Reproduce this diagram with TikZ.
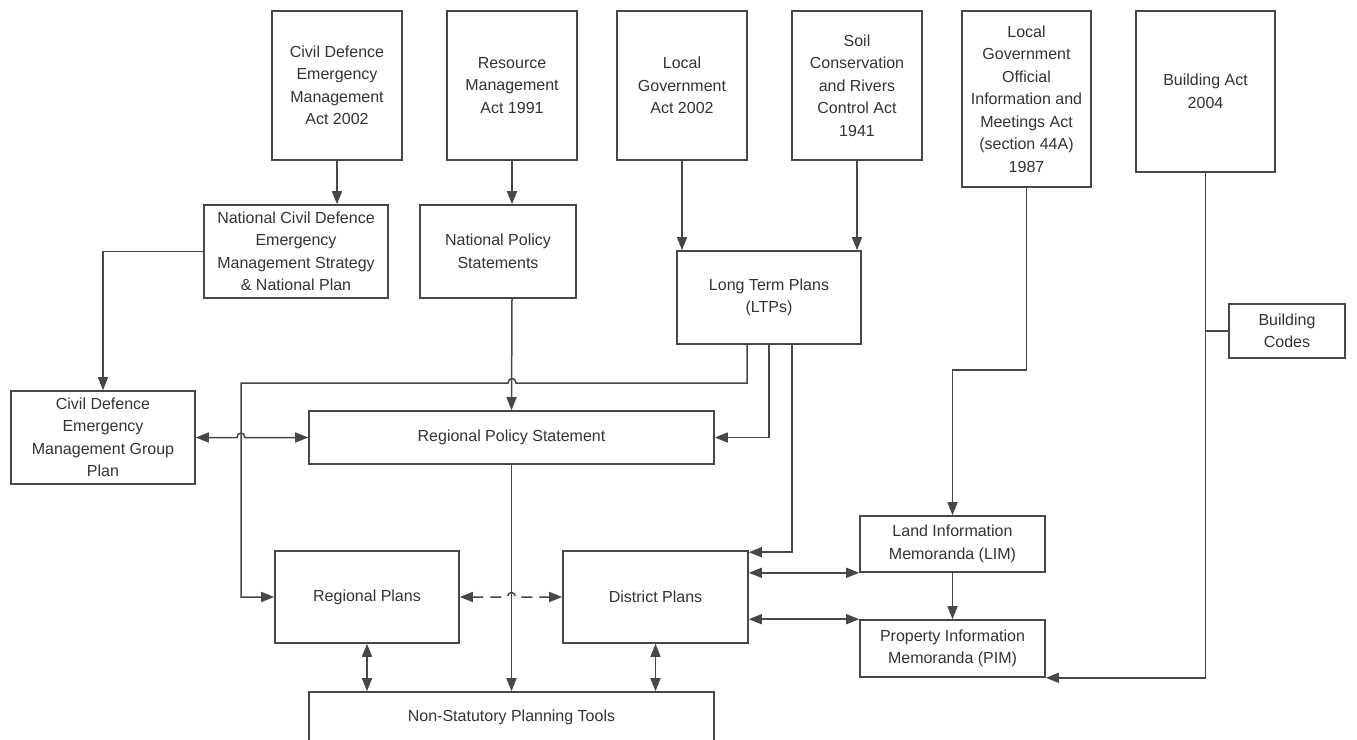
\documentclass[tikz,border=0pt]{standalone}
\usepackage{fontspec}
\setmainfont{Liberation Sans}
\usetikzlibrary{arrows.meta,positioning,calc}
\definecolor{linegray}{HTML}{474747}
\definecolor{textgray}{HTML}{333333}

\begin{document}
\begin{tikzpicture}[
    x=1pt,y=-1pt,
    docbox/.style={rectangle,draw=linegray,line width=1.6pt,text=textgray,align=center,inner sep=0pt,font=\fontsize{16}{22.5}\selectfont},
    act/.style={docbox,minimum width=130pt,minimum height=149pt},
    plan/.style={docbox,minimum width=184pt,minimum height=93pt},
    memo/.style={docbox,minimum width=185pt,minimum height=56pt},
    wide/.style={docbox,minimum width=405pt,minimum height=53pt},
    link/.style={draw=linegray,line width=1.5pt},
    arrow/.style={link,-{Triangle[length=13pt,width=10pt]}},
    dualarrow/.style={link,{Triangle[length=13pt,width=10pt]}-{Triangle[length=13pt,width=10pt]}},
    dashedarrow/.style={dualarrow,dash pattern=on 11pt off 7pt}
]
\clip (0,0) rectangle (1357,739);

% Acts (top row)
\node[act] (cdem_act) at (337,85.5) {Civil Defence\\Emergency\\Management\\Act 2002};
\node[act] (rma_act) at (512,85.5) {Resource\\Management\\Act 1991};
\node[act] (lga_act) at (682,85.5) {Local\\Government\\Act 2002};
\node[act] (soil_act) at (857,85.5) {Soil\\Conservation\\and Rivers\\Control Act\\1941};
\node[act,minimum width=129pt,minimum height=176pt] (lgoima_act) at (1026.5,99) {Local\\Government\\Official\\Information and\\Meetings Act\\(section 44A)\\1987};
\node[act,minimum width=139pt,minimum height=161pt] (building_act) at (1205.5,91.5) {Building Act\\2004};

% National instruments
\node[plan] (cdem_strategy) at (296,251.5) {National Civil Defence\\Emergency\\Management Strategy\\\& National Plan};
\node[plan,minimum width=156pt] (nps) at (498,251.5) {National Policy\\Statements};
\node[plan] (ltp) at (769,297.5) {Long Term Plans\\(LTPs)};
\node[docbox,minimum width=116pt,minimum height=54pt] (building_codes) at (1287,331) {Building\\Codes};

% Regional level
\node[plan] (cdem_group) at (103,437.5) {Civil Defence\\Emergency\\Management Group\\Plan};
\node[wide] (rps) at (511.5,437.5) {Regional Policy Statement};

% District level
\node[plan,minimum height=92pt] (regional_plans) at (367,597) {Regional Plans};
\node[plan,minimum width=185pt,minimum height=92pt] (district_plans) at (655.5,597) {District Plans};
\node[memo] (lim) at (952.5,544) {Land Information\\Memoranda (LIM)};
\node[memo,minimum height=57pt] (pim) at (952.5,648.5) {Property Information\\Memoranda (PIM)};
\node[wide,minimum height=50pt] (non_statutory) at (511.5,717) {Non-Statutory Planning Tools};

% Rails and hops
\coordinate (rail_ltp) at (241,383);
\coordinate (rail_lim) at (1026.5,370);
\coordinate (hop_nps) at (rma_act.south |- rail_ltp);
\coordinate (hop_cdem) at (rail_ltp |- rps.west);
\coordinate (hop_dash) at (rps.south |- regional_plans.east);

% Acts to national instruments
\draw[arrow] (cdem_act.south) -- (cdem_act.south |- cdem_strategy.north);
\draw[arrow] (rma_act.south) -- (rma_act.south |- nps.north);
\draw[arrow] (lga_act.south) -- (lga_act.south |- ltp.north);
\draw[arrow] (soil_act.south) -- (soil_act.south |- ltp.north);
\draw[arrow] (cdem_strategy.west) -| (cdem_group.north);
\draw[arrow] (rma_act.south |- nps.south) -- (rps.north);

% Long Term Plans feeds
\draw[arrow] ([xshift=-22pt]ltp.south) |- ([xshift=4pt]hop_nps) .. controls +(0,-6) and +(0,-6) .. ([xshift=-4pt]hop_nps) -- (rail_ltp) |- (regional_plans.west);
\draw[arrow] (ltp.south) |- (rps.east);
\draw[arrow] ([xshift=23pt]ltp.south) |- ([yshift=-2pt]district_plans.north east);

% Regional links
\draw[dualarrow] (cdem_group.east) -- ([xshift=-4pt]hop_cdem) .. controls +(0,-6) and +(0,-6) .. ([xshift=4pt]hop_cdem) -- (rps.west);
\draw[dashedarrow] (regional_plans.east) -- ([xshift=-4pt]hop_dash) .. controls +(0,-6) and +(0,-6) .. ([xshift=4pt]hop_dash) -- (district_plans.west);
\draw[arrow] (rps.south) -- (rps.south |- non_statutory.north);
\draw[dualarrow] (regional_plans.south) -- (regional_plans.south |- non_statutory.north);
\draw[dualarrow] (district_plans.south) -- (district_plans.south |- non_statutory.north);

% Memoranda
\draw[dualarrow] (district_plans.east |- lim.south west) -- (lim.south west);
\draw[dualarrow] (district_plans.east |- pim.north west) -- (pim.north west);
\draw[arrow] (lim.south) -- (pim.north);
\draw[arrow] (lgoima_act.south) -- (rail_lim) -| (lim.north);
\draw[arrow] (building_act.south) |- (pim.south east);
\draw[link] (building_act.south |- building_codes.west) -- (building_codes.west);

\end{tikzpicture}
\end{document}
